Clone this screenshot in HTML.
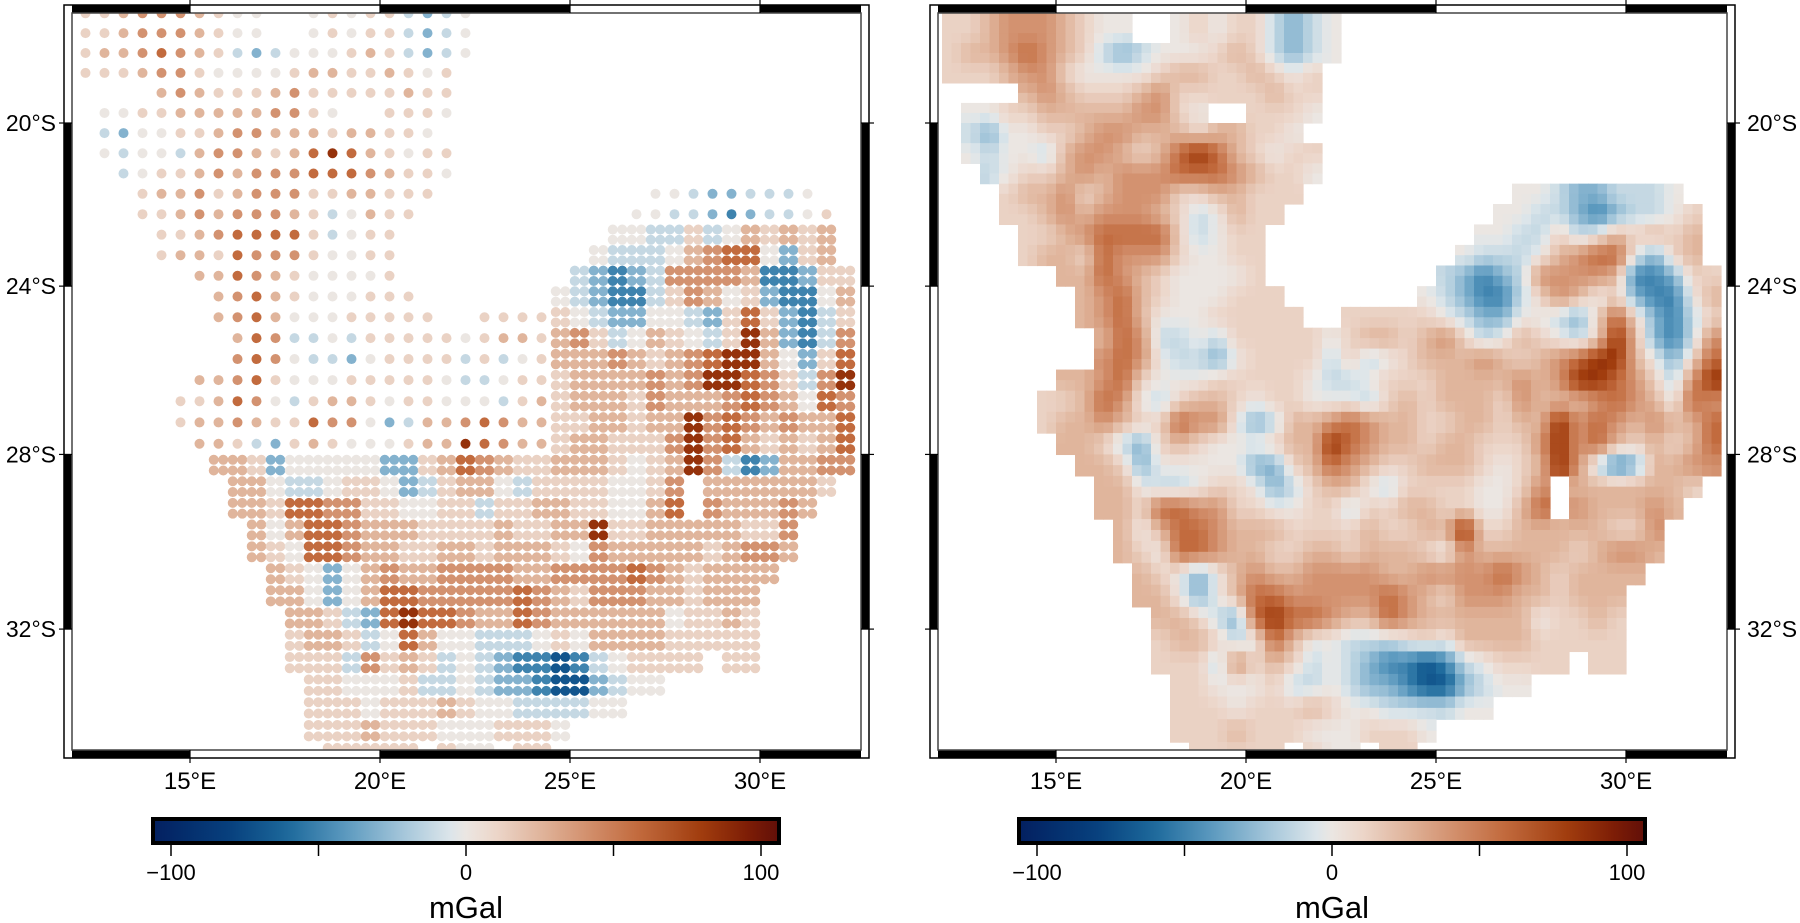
<!DOCTYPE html>
<html><head><meta charset="utf-8"><style>
html,body{margin:0;padding:0;background:#fff;}
svg{display:block;font-family:"Liberation Sans",sans-serif;}
</style></head>
<body>
<svg id="fig" width="1800" height="923" viewBox="0 0 1800 923" xmlns="http://www.w3.org/2000/svg">
<defs>
<clipPath id="clipL"><rect x="72" y="13" width="789" height="737"/></clipPath>
<clipPath id="clipR"><rect x="938" y="13" width="789" height="737"/></clipPath>
<linearGradient id="cbar" x1="0" x2="1" y1="0" y2="0"></linearGradient>
</defs>
<g id="panelL"></g>
<g id="panelR"></g>
</svg>
<script>
// ---- data: gravity anomaly grid (0.5 deg cells), rows from 17.0S southward, cols from 12.0E eastward
const lonStart = 12.0;
const latStart = 17.0;
const cellDeg = 0.5;
const levelValues = [-70, -50, -30, -12, 0, 12, 25, 40, 58, 85];
const gridRows = [
"5567776544..454553234....................",
"5567776544..454553234....................",
"566787653234445653234....................",
"55567754444566556545.....................",
"....6765556755555655.....................",
".4455666667754..5554.....................",
".324455677666566554......................",
".4344367765689865455.....................",
"..345567677788876554.....................",
"...5667567775566555...........443223334..",
"...556767776534655...........44332123345.",
"....5567888853455...........443353465656.",
"....5665877754455..........4333467884256.",
"......66876544445.........321237777611255",
".......67865444555.......4321135764521146",
".......678644455555..55555432244325852135",
"........687334355555456656753465435962137",
"........787433245555353456667656789964258",
"......66785444555554334555666676799875379",
".....556874356654554443565666576667876487",
".....566765587742366787665566566978767668",
"......66532565444566987665665557978656568",
".......6652444442256876556665456973126677",
"........664334554235664355554457.6666665.",
"........665887755445535566554468.766676..",
".........64688766655556556695566666557...",
".........65488766556656665476666656776...",
"..........654246766777766777787656666....",
"..........66424688777778765777665666.....",
"...........6653289887668766666645565.....",
"...........5665348644333454666655555.....",
"...........5553756534321101345555.55.....",
"............5544453343221002344..........",
"............55545556544333344............",
"............55565554445554...............",
".............55555.544.55................"
];
const lonTicks = [15, 20, 25, 30];
const lonTickLabels = ["15°E", "20°E", "25°E", "30°E"];
const latTicks = [20, 24, 28, 32];
const latTickLabels = ["20°S", "24°S", "28°S", "32°S"];
const cbarTicks = [-100, -50, 0, 50, 100];
const cbarTickLabels = ["\u2212100", "", "0", "", "100"];
const cbarMin = -106, cbarMax = 106;

// ---- colormap (vik-like)
const cmapVals = [-110,-80,-60,-40,-20,-5,0,10,25,40,58,80,95,110];
const cmapCols = ["#021b5c","#07407d","#1d6a9c","#5e9bc0","#a9c9dc","#dde6ea","#ebe6e2","#ecd6ca","#e0b59c","#d39270","#c26b3e","#a03c0d","#7e1e06","#560909"];
function hex2rgb(h){return [parseInt(h.substr(1,2),16),parseInt(h.substr(3,2),16),parseInt(h.substr(5,2),16)];}
function cmap(v){
  if(v<=cmapVals[0]) return cmapCols[0];
  for(let i=1;i<cmapVals.length;i++){
    if(v<=cmapVals[i]){
      const t=(v-cmapVals[i-1])/(cmapVals[i]-cmapVals[i-1]);
      const a=hex2rgb(cmapCols[i-1]), b=hex2rgb(cmapCols[i]);
      return "rgb("+a.map((c,k)=>Math.round(c+(b[k]-c)*t)).join(",")+")";
    }
  }
  return cmapCols[cmapCols.length-1];
}

// ---- axes
const NS="http://www.w3.org/2000/svg";
const merc = d => Math.asinh(Math.tan(d*Math.PI/180));
function xLon(lon, off){ return off + 190 + (lon-15)*38.0; }
function yLat(lat){ return 123 + (merc(lat)-merc(20))*2166; }
const inner = {x0:72, x1:861, y0:13, y1:750};
function mk(tag, attrs, parent){ const e=document.createElementNS(NS,tag); for(const k in attrs) e.setAttribute(k,attrs[k]); parent.appendChild(e); return e; }

function drawFrame(g, off, labelSide){
  const x0=inner.x0+off, x1=inner.x1+off, y0=inner.y0, y1=inner.y1, w=8;
  const lonMin=15-(190-inner.x0)/38, lonMax=15+(inner.x1-190)/38;
  const lonB=[lonMin,15,20,25,30,lonMax];
  for(let i=0;i<lonB.length-1;i++){
    if(i%2===0){
      const xa=xLon(lonB[i],off), xb=xLon(lonB[i+1],off);
      for(const yy of [y0-w, y1]){
        const r=mk('rect',{x:xa,y:yy,width:xb-xa,height:w,fill:'#000'},g);
        
        
      }
    }
  }
  const latB=[20,24,28,32];
  for(let i=0;i<latB.length;i+=2){
    const ya=yLat(latB[i]), yb=yLat(latB[i+1]);
    for(const xx of [x0-w, x1]){
      const r=mk('rect',{x:xx,y:ya,width:w,height:yb-ya,fill:'#000'},g);
      
      
    }
  }
  const o=mk('rect',{x:x0-w,y:y0-w,width:x1-x0+2*w,height:y1-y0+2*w,fill:'none',stroke:'#000','stroke-width':1.5},g);
   
  const ir=mk('rect',{x:x0,y:y0,width:x1-x0,height:y1-y0,fill:'none',stroke:'#444','stroke-width':1.5},g);
   
  lonTicks.forEach((lon,i)=>{
    const x=xLon(lon,off);
    mk('line',{x1:x,x2:x,y1:y0-w-5,y2:y0,stroke:'#000','stroke-width':1.2},g);
    mk('line',{x1:x,x2:x,y1:y1,y2:y1+w+5,stroke:'#000','stroke-width':1.2},g);
    const t=mk('text',{x:x,y:789,'text-anchor':'middle','font-size':24,fill:'#000'},g);
    t.textContent=lonTickLabels[i];
    
    
  });
  latTicks.forEach((lat,i)=>{
    const y=yLat(lat);
    mk('line',{x1:x0-w-5,x2:x0,y1:y,y2:y,stroke:'#000','stroke-width':1.2},g);
    mk('line',{x1:x1,x2:x1+w+5,y1:y,y2:y,stroke:'#000','stroke-width':1.2},g);
    const t=labelSide==='left'
      ? mk('text',{x:x0-w-8,y:y+8,'text-anchor':'end','font-size':23,fill:'#000'},g)
      : mk('text',{x:x1+w+12,y:y+8,'text-anchor':'start','font-size':23,fill:'#000'},g);
    t.textContent=latTickLabels[i];
    
    
  });
}

function drawColorbar(g, off){
  const xa=153+off, xb=779+off;
  const sx = v => 466+off + v*2.95;
  const b=mk('rect',{x:xa,y:819,width:xb-xa,height:24,fill:'url(#cbar)',stroke:'#000','stroke-width':4},g);
  
  
  cbarTicks.forEach((v,i)=>{
    const x=sx(v);
    mk('line',{x1:x,x2:x,y1:845,y2:856,stroke:'#000','stroke-width':1.5},g);
    if(cbarTickLabels[i]){
      const t=mk('text',{x:x,y:880,'text-anchor':'middle','font-size':22,fill:'#000'},g);
      t.textContent=cbarTickLabels[i];
      
      
    }
  });
  const t=mk('text',{x:466+off,y:918,'text-anchor':'middle','font-size':31,fill:'#000'},g);
  t.textContent='mGal';
  
  
}

const grad=document.getElementById('cbar');
for(let i=0;i<=40;i++){
  const v=cbarMin+(cbarMax-cbarMin)*i/40;
  mk('stop',{offset:(i/40*100)+'%','stop-color':cmap(v)},grad);
}

const gL=document.getElementById('panelL');
const gR=document.getElementById('panelR');
const OFF=866;
const dataL=mk('g',{'clip-path':'url(#clipL)'},gL);


const dataR=mk('g',{'clip-path':'url(#clipR)'},gR);



function val(r,c){
  if(r<0||r>=gridRows.length) return null;
  const row=gridRows[r];
  if(c<0||c>=row.length) return null;
  const ch=row[c];
  return ch==='.'?null:levelValues[+ch];
}
function subVal(r,c,dr,dc){
  // smooth: own cell weighted with neighbours in the sub-cell's direction
  const own=val(r,c);
  let s=own*0.55, w=0.55;
  const h=val(r,c+dc), v=val(r+dr,c), d=val(r+dr,c+dc);
  if(h!==null){s+=h*0.2;w+=0.2;}
  if(v!==null){s+=v*0.2;w+=0.2;}
  if(d!==null){s+=d*0.05;w+=0.05;}
  return s/w;
}

gridRows.forEach((row,r)=>{
  for(let c=0;c<row.length;c++){
    const own=val(r,c);
    if(own===null) continue;
    const lon0=lonStart+c*cellDeg, lat0=latStart+r*cellDeg;
    const h=cellDeg/2;
    for(const [dr,ddeg] of [[-1,0],[1,h]]){
      for(const [dc,ldeg] of [[-1,0],[1,h]]){
        const v=subVal(r,c,dr,dc);
        const col=cmap(v);
        const xa=xLon(lon0+ldeg,OFF), xb=xLon(lon0+ldeg+h,OFF);
        const ya=yLat(lat0+ddeg), yb=yLat(lat0+ddeg+h);
        const cell=mk('rect',{x:xa,y:ya,width:xb-xa+0.6,height:yb-ya+0.6,fill:col},dataR);
        
        
      }
    }
    const col=cmap(own);
    const dense = (r>=11 && c>=25) || r>=22;
    const offs = dense ? [0.125,0.375] : [0.25];
    for(const dl of offs){ for(const dt of offs){
      const p=mk('circle',{cx:xLon(lon0+dl,0),cy:yLat(lat0+dt),r:5,fill:col},dataL);
      
      
    }}
  }
});

const fL=mk('g',{},gL);  
drawFrame(fL,0,'left');
const fR=mk('g',{},gR);  
drawFrame(fR,OFF,'right');
const cL=mk('g',{},gL);  
drawColorbar(cL,0);
const cR=mk('g',{},gR);  
drawColorbar(cR,OFF);
</script>
</body></html>
